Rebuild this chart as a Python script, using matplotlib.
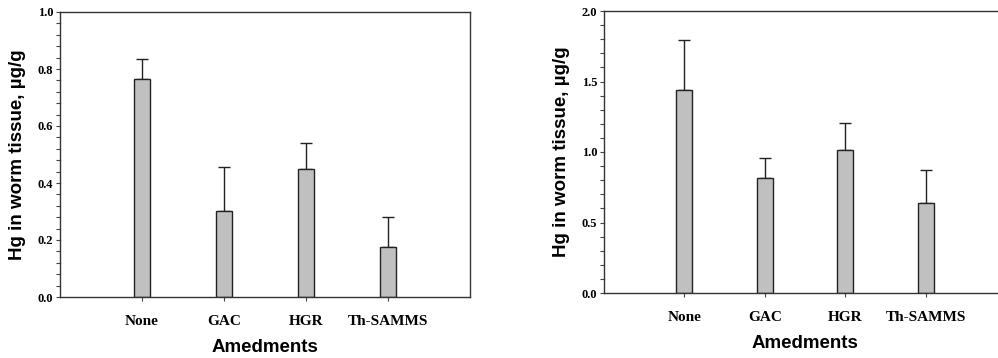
import matplotlib
matplotlib.use("Agg")
import matplotlib.pyplot as plt
from matplotlib.ticker import MultipleLocator, FormatStrFormatter

categories = ["None", "GAC", "HGR", "Th-SAMMS"]
left_means = [0.766, 0.303, 0.449, 0.174]
left_upper = [0.834, 0.455, 0.541, 0.280]
right_means = [1.44, 0.813, 1.017, 0.641]
right_upper = [1.792, 0.955, 1.208, 0.875]
xlabel = "Amedments"
ylabel = "Hg in worm tissue, \u00b5g/g"

fig = plt.figure(figsize=(9.98, 3.58), dpi=100)
W, H = 998, 358

def make_ax(rect_px, means, upper, ymax, major, minor):
    l, t, r, b = rect_px
    ax = fig.add_axes([l / W, 1 - b / H, (r - l) / W, (b - t) / H])
    x = list(range(1, len(categories) + 1))
    errs = [u - m for u, m in zip(upper, means)]
    ax.bar(x, means, width=0.2, color="#c0c0c0", edgecolor="#222222", linewidth=1.0, zorder=2)
    ax.errorbar(x, means, yerr=[[0] * len(errs), errs], fmt="none", ecolor="#222222",
                elinewidth=1.0, capsize=4, capthick=1.0, zorder=1)
    ax.set_xlim(0, 5)
    ax.set_ylim(0, ymax)
    ax.set_xticks(x)
    ax.set_xticklabels(categories, fontfamily="Liberation Serif", fontweight="bold", fontsize=11)
    ax.yaxis.set_major_locator(MultipleLocator(major))
    ax.yaxis.set_minor_locator(MultipleLocator(minor))
    ax.yaxis.set_major_formatter(FormatStrFormatter("%.1f"))
    for lab in ax.get_yticklabels():
        lab.set_fontfamily("Liberation Serif")
        lab.set_fontweight("bold")
        lab.set_fontsize(9)
    ax.tick_params(axis="both", which="both", direction="out", length=3, width=0.8, color="#444444")
    ax.tick_params(axis="x", pad=10)
    ax.tick_params(axis="y", pad=2)
    for s in ax.spines.values():
        s.set_color("#333333")
        s.set_linewidth(1.0)
    ax.set_xlabel(xlabel, fontfamily="Liberation Sans", fontweight="bold", fontsize=13.5, labelpad=8)
    ax.set_ylabel(ylabel, fontfamily="Liberation Sans", fontweight="bold", fontsize=13.5, labelpad=8)
    return ax

make_ax((60, 12, 470, 297), left_means, left_upper, 1.0, 0.2, 0.04)
make_ax((604, 11, 1006, 293), right_means, right_upper, 2.0, 0.5, 0.1)

fig.savefig("out.png", dpi=100)
